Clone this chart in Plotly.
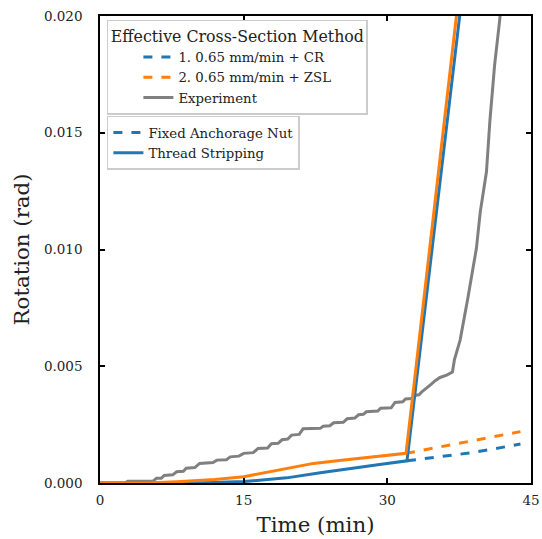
import plotly.graph_objects as go

# ---- data ----
exp_t = [0, 2.6, 2.9, 5.5, 5.9, 6.4, 6.7, 7.6, 8.0, 8.7, 9.0, 9.9, 10.4, 11.8, 12.2, 13.2, 13.6,
         14.5, 15.0, 16.0, 16.5, 17.5, 17.9, 18.6, 19.0, 19.6, 20.0, 20.8, 21.2, 23.0, 23.3, 24.0,
         24.4, 25.4, 25.8, 26.6, 27.0, 27.5, 27.8, 29.0, 29.3, 30.4, 30.8, 31.6, 31.9, 32.5, 32.8,
         33.3, 33.6, 34.0, 34.5, 35.0, 35.5, 36.2, 36.8, 37.0, 37.6, 38.4, 38.9, 39.3, 39.7,
         40.35, 40.7, 41.2, 41.75, 42.0]
exp_r = [0, 0, 0.00007, 0.00007, 0.0002, 0.0002, 0.00032, 0.00035, 0.00048, 0.0005, 0.00063,
         0.00066, 0.00084, 0.00088, 0.00098, 0.001, 0.00112, 0.00115, 0.00127, 0.0013, 0.00148,
         0.0015, 0.00168, 0.0017, 0.00185, 0.00188, 0.00205, 0.00208, 0.00232, 0.00234, 0.00243,
         0.00245, 0.00258, 0.0026, 0.00275, 0.00278, 0.00292, 0.00294, 0.00305, 0.00308, 0.0032,
         0.00322, 0.00345, 0.00348, 0.0036, 0.00362, 0.00375, 0.00378, 0.0039, 0.00405, 0.0042,
         0.00438, 0.00452, 0.00462, 0.00475, 0.00527, 0.00612, 0.0079, 0.00905, 0.01005, 0.0116,
         0.01333, 0.01547, 0.0179, 0.0199, 0.0212]

cr_ts_t = [0, 10, 15, 17, 19.5, 23, 26, 29, 32.05, 33.1, 37.55, 37.9]
cr_ts_r = [0, 0, 0.00006, 0.00012, 0.00022, 0.00044, 0.00062, 0.00078, 0.00095, 0.00462, 0.020, 0.0212]

zsl_ts_t = [0, 5, 8, 12, 15, 17, 19.5, 22.3, 25, 28, 31.95, 32.9, 37.2, 37.55]
zsl_ts_r = [0, 0, 0.00005, 0.00015, 0.00027, 0.00042, 0.0006, 0.00084, 0.00096, 0.0011, 0.00127, 0.00462, 0.020, 0.0212]

cr_fn_t = [32.05, 35, 38.3, 41, 43.9]
cr_fn_r = [0.00095, 0.0011, 0.00127, 0.00145, 0.00167]

zsl_fn_t = [31.95, 35, 38.3, 41, 43.9]
zsl_fn_r = [0.00127, 0.0015, 0.00177, 0.00198, 0.0022]

x_ticks = [0, 15, 30, 45]
y_ticks = [0.0, 0.005, 0.010, 0.015, 0.020]

BLUE = "#1f77b4"
ORANGE = "#ff7f0e"
GRAY = "#808080"
FONT = "DejaVu Serif"
LW = 3

fig = go.Figure()

fig.add_trace(go.Scatter(x=cr_fn_t, y=cr_fn_r, mode="lines", name="1. 0.65 mm/min + CR",
                         line=dict(color=BLUE, width=LW, dash="dash"), legend="legend", legendrank=1))
fig.add_trace(go.Scatter(x=zsl_fn_t, y=zsl_fn_r, mode="lines", name="2. 0.65 mm/min + ZSL",
                         line=dict(color=ORANGE, width=LW, dash="dash"), legend="legend", legendrank=2))
fig.add_trace(go.Scatter(x=exp_t, y=exp_r, mode="lines", name="Experiment",
                         line=dict(color=GRAY, width=LW), legend="legend", legendrank=3))
fig.add_trace(go.Scatter(x=cr_ts_t, y=cr_ts_r, mode="lines", name="Thread Stripping",
                         line=dict(color=BLUE, width=LW), legend="legend2", legendrank=2))
fig.add_trace(go.Scatter(x=zsl_ts_t, y=zsl_ts_r, mode="lines", name="ZSL stripping",
                         line=dict(color=ORANGE, width=LW), showlegend=False))
fig.add_trace(go.Scatter(x=[None], y=[None], mode="lines", name="Fixed Anchorage Nut",
                         line=dict(color=BLUE, width=LW, dash="dash"), legend="legend2", legendrank=1))

axis_common = dict(
    showline=True, linecolor="black", linewidth=1.5, mirror="ticks",
    ticks="inside", ticklen=5, tickwidth=1.5, tickcolor="black",
    showgrid=False, zeroline=False, automargin=False,
    tickfont=dict(family=FONT, size=13.5, color="#222"),
)

fig.update_layout(
    width=542, height=539,
    margin=dict(l=100, r=11, t=16, b=56),
    paper_bgcolor="white", plot_bgcolor="white",
    font=dict(family=FONT, color="#222"),
    xaxis=dict(range=[0, 45], tickvals=x_ticks, ticktext=[str(v) for v in x_ticks],
               ticklabelstandoff=4,
               title=dict(text="Time (min)", font=dict(family=FONT, size=21.3), standoff=10),
               **axis_common),
    yaxis=dict(range=[0, 0.020], tickvals=y_ticks, tickformat=".3f",
               ticklabelstandoff=13,
               title=dict(text="Rotation (rad)", font=dict(family=FONT, size=21.3), standoff=8),
               **axis_common),
    legend=dict(
        x=0.016, y=0.992, xanchor="left", yanchor="top",
        bgcolor="rgba(255,255,255,0.85)", bordercolor="#cccccc", borderwidth=1.5,
        font=dict(family=FONT, size=13.3, color="#222"),
        title=dict(text="Effective Cross-Section Method", side="top center",
                   font=dict(family=FONT, size=15.8, color="#222")),
        indentation=30, tracegroupgap=0, itemwidth=30,
    ),
    legend2=dict(
        x=0.016, y=0.786, xanchor="left", yanchor="top",
        bgcolor="rgba(255,255,255,0.85)", bordercolor="#cccccc", borderwidth=1.5,
        font=dict(family=FONT, size=13.3, color="#222"),
        tracegroupgap=0, itemwidth=30,
    ),
)

fig.write_html("out.html")
